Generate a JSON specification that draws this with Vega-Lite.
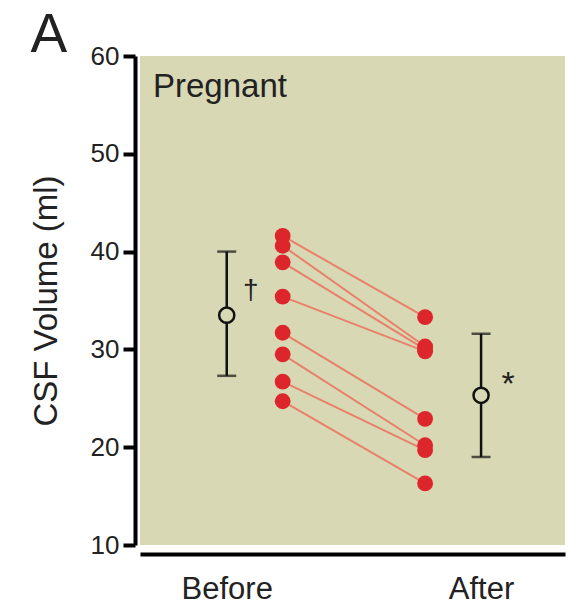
{
  "$schema": "https://vega.github.io/schema/vega-lite/v6.json",
  "autosize": {"type": "none"},
  "padding": {"left": 140, "top": 56, "right": 13, "bottom": 60},
  "width": 425,
  "height": 489,
  "background": "white",
  "config": {
    "view": {"stroke": null, "fill": "#d9d8b4"},
    "axis": {"grid": false, "labelFont": "Liberation Sans", "titleFont": "Liberation Sans", "labelColor": "#222", "titleColor": "#222", "domainColor": "#000", "tickColor": "#000"}
  },
  "datasets": {
    "subjects": [
      {"id": 1, "time": 0.22, "volume": 41.6}, {"id": 1, "time": 0.78, "volume": 33.3},
      {"id": 2, "time": 0.22, "volume": 40.6}, {"id": 2, "time": 0.78, "volume": 30.3},
      {"id": 3, "time": 0.22, "volume": 38.9}, {"id": 3, "time": 0.78, "volume": 30.0},
      {"id": 4, "time": 0.22, "volume": 35.4}, {"id": 4, "time": 0.78, "volume": 29.8},
      {"id": 5, "time": 0.22, "volume": 31.7}, {"id": 5, "time": 0.78, "volume": 22.9},
      {"id": 6, "time": 0.22, "volume": 29.5}, {"id": 6, "time": 0.78, "volume": 20.2},
      {"id": 7, "time": 0.22, "volume": 26.7}, {"id": 7, "time": 0.78, "volume": 19.7},
      {"id": 8, "time": 0.22, "volume": 24.7}, {"id": 8, "time": 0.78, "volume": 16.3}
    ],
    "means": [
      {"time": 0, "mean": 33.5, "lo": 27.3, "hi": 40.0},
      {"time": 1, "mean": 25.3, "lo": 19.0, "hi": 31.6}
    ],
    "notes": [
      {"time": 0.095, "volume": 35.15, "label": "†", "size": 28},
      {"time": 1.106, "volume": 25.3, "label": "*", "size": 34},
      {"time": -0.699, "volume": 60.41, "label": "A", "size": 55}
    ],
    "group": [
      {"time": -0.29, "volume": 55.8, "label": "Pregnant"}
    ]
  },
  "layer": [
    {
      "data": {"name": "subjects"},
      "mark": {"type": "line", "color": "#e8806a", "strokeWidth": 2},
      "encoding": {
        "x": {"field": "time", "type": "quantitative", "scale": {"domain": [-0.341, 1.33], "nice": false, "zero": false},
              "axis": {"values": [0, 1], "labelExpr": "datum.value == 0 ? 'Before' : 'After'", "ticks": false, "domainWidth": 4, "offset": 9, "labelFontSize": 31, "labelPadding": 20, "title": null, "labelFlush": false}},
        "y": {"field": "volume", "type": "quantitative", "scale": {"domain": [10, 60], "nice": false, "zero": false},
              "axis": {"values": [10, 20, 30, 40, 50, 60], "domainWidth": 4, "tickWidth": 4, "tickSize": 12, "offset": 5, "labelFontSize": 26, "labelPadding": 4, "title": "CSF Volume (ml)", "titleFontSize": 33, "titleFontWeight": "normal", "titlePadding": 27}},
        "detail": {"field": "id"}
      }
    },
    {
      "data": {"name": "subjects"},
      "mark": {"type": "point", "filled": true, "color": "#dd262c", "opacity": 1, "size": 250},
      "encoding": {
        "x": {"field": "time", "type": "quantitative"},
        "y": {"field": "volume", "type": "quantitative"}
      }
    },
    {
      "data": {"name": "means"},
      "mark": {"type": "rule", "color": "#111", "strokeWidth": 2.5},
      "encoding": {
        "x": {"field": "time", "type": "quantitative"},
        "y": {"field": "lo", "type": "quantitative"},
        "y2": {"field": "hi"}
      }
    },
    {
      "data": {"name": "means"},
      "mark": {"type": "tick", "orient": "horizontal", "color": "#111", "thickness": 2.5, "size": 19},
      "encoding": {
        "x": {"field": "time", "type": "quantitative"},
        "y": {"field": "lo", "type": "quantitative"}
      }
    },
    {
      "data": {"name": "means"},
      "mark": {"type": "tick", "orient": "horizontal", "color": "#111", "thickness": 2.5, "size": 19},
      "encoding": {
        "x": {"field": "time", "type": "quantitative"},
        "y": {"field": "hi", "type": "quantitative"}
      }
    },
    {
      "data": {"name": "means"},
      "mark": {"type": "point", "filled": false, "fill": "#d9d8b4", "fillOpacity": 1, "stroke": "#111", "strokeWidth": 2.5, "opacity": 1, "size": 230},
      "encoding": {
        "x": {"field": "time", "type": "quantitative"},
        "y": {"field": "mean", "type": "quantitative"}
      }
    },
    {
      "data": {"name": "notes"},
      "mark": {"type": "text", "font": "Liberation Sans", "color": "#222", "baseline": "alphabetic", "align": "center"},
      "encoding": {
        "x": {"field": "time", "type": "quantitative"},
        "y": {"field": "volume", "type": "quantitative"},
        "text": {"field": "label"},
        "size": {"field": "size", "type": "quantitative", "scale": null}
      }
    },
    {
      "data": {"name": "group"},
      "mark": {"type": "text", "font": "Liberation Sans", "color": "#222", "baseline": "alphabetic", "align": "left", "fontSize": 33},
      "encoding": {
        "x": {"field": "time", "type": "quantitative"},
        "y": {"field": "volume", "type": "quantitative"},
        "text": {"field": "label"}
      }
    }
  ]
}
